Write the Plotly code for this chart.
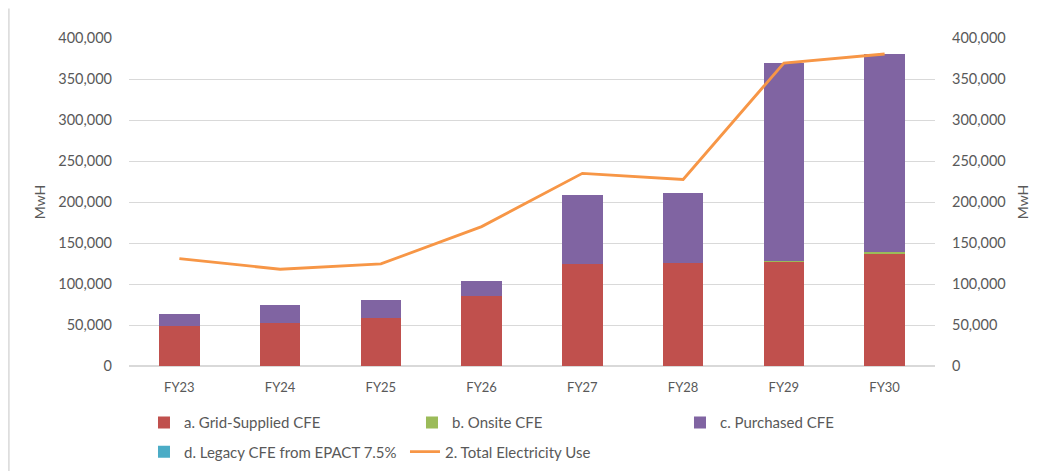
import plotly.graph_objects as go

years = ["FY23", "FY24", "FY25", "FY26", "FY27", "FY28", "FY29", "FY30"]
grid_cfe = [48500, 52500, 59000, 85000, 124000, 126000, 127000, 137500]
onsite_cfe = [0, 0, 0, 0, 0, 0, 1500, 1500]
purchased_cfe = [15500, 21500, 21600, 19000, 84800, 84500, 240500, 241000]
legacy_cfe = [0, 0, 0, 0, 0, 0, 0, 0]
total_use = [131000, 118000, 124500, 170000, 235000, 227500, 369500, 380500]

tick_vals = [0, 50000, 100000, 150000, 200000, 250000, 300000, 350000, 400000]
tick_text = ["0", "50,000", "100,000", "150,000", "200,000", "250,000", "300,000", "350,000", "400,000"]

FONT = "Lato, 'Open Sans', sans-serif"
GREY = "#595959"

fig = go.Figure()
fig.add_trace(go.Bar(x=years, y=grid_cfe, name="a. Grid-Supplied CFE", marker_color="#C0504D",
                     marker_line_width=0, legend="legend"))
fig.add_trace(go.Bar(x=years, y=onsite_cfe, name="b. Onsite CFE", marker_color="#9BBB59",
                     marker_line_width=0, legend="legend"))
fig.add_trace(go.Bar(x=years, y=purchased_cfe, name="c. Purchased CFE", marker_color="#8064A2",
                     marker_line_width=0, legend="legend"))
fig.add_trace(go.Bar(x=years, y=legacy_cfe, name="d. Legacy CFE from EPACT 7.5%", marker_color="#4BACC6",
                     marker_line_width=0, legend="legend2"))
fig.add_trace(go.Scatter(x=years, y=total_use, name="2. Total Electricity Use", mode="lines",
                         line=dict(color="#F79646", width=2.8), yaxis="y2", legend="legend2"))

legend_common = dict(orientation="h", xanchor="left", yanchor="middle",
                     entrywidthmode="pixels", traceorder="normal",
                     font=dict(size=15, color=GREY), itemwidth=30, bgcolor="rgba(0,0,0,0)")

fig.update_layout(
    width=1039, height=463,
    barmode="stack", bargap=0.6,
    paper_bgcolor="white", plot_bgcolor="white",
    margin=dict(l=121, r=112, t=30, b=105, autoexpand=False),
    font=dict(family=FONT, size=13, color=GREY),
    xaxis=dict(showgrid=False, showline=True, linecolor="#D9D9D9", linewidth=1,
               tickfont=dict(size=13, color=GREY), ticks="", ticklabelstandoff=9),
    yaxis=dict(range=[0, 400000], tickvals=tick_vals, ticktext=tick_text,
               showgrid=True, gridcolor="#D9D9D9", gridwidth=1, zeroline=True, zerolinecolor="#D9D9D9",
               title=dict(text="MwH", standoff=9, font=dict(size=14, color=GREY)),
               ticks="", tickfont=dict(size=14.5, color=GREY), ticklabelstandoff=16),
    yaxis2=dict(range=[0, 400000], tickvals=tick_vals, ticktext=tick_text, overlaying="y", side="right",
                showgrid=False, zeroline=False,
                title=dict(text="MwH", standoff=13, font=dict(size=14, color=GREY)),
                ticks="", tickfont=dict(size=14.5, color=GREY), ticklabelstandoff=16),
    legend=dict(x=0.0186, y=-0.173, entrywidth=223, **legend_common),
    legend2=dict(x=0.0186, y=-0.262, entrywidth=216, **legend_common),
    showlegend=True,
)

fig.add_shape(type="line", xref="paper", yref="paper", x0=-0.149, x1=-0.149, y0=-0.32, y1=1.09,
              line=dict(color="#D9D9D9", width=1.5))

fig.write_html("out.html")
